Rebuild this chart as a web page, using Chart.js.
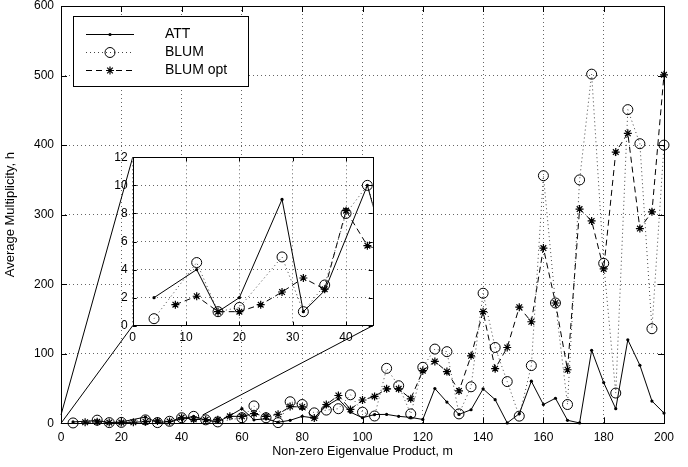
<!DOCTYPE html>
<html>
<head>
<meta charset="utf-8">
<script src="https://cdn.jsdelivr.net/npm/chart.js@4.4.0/dist/chart.umd.min.js"></script>
<style>
  html, body { margin: 0; padding: 0; background: #fff; }
  #wrap { position: relative; width: 688px; height: 467px; }
  #main { position: absolute; left: 0; top: 0; }
  #inset { position: absolute; left: 100px; top: 145px; }
</style>
</head>
<body>
<div id="wrap">
  <canvas id="main" width="688" height="467"></canvas>
  <canvas id="inset" width="290" height="200"></canvas>
</div>
<script>
// m values (x axis)
const mValues = [4, 8, 12, 16, 20, 24, 28, 32, 36, 40, 44, 48, 52, 56, 60, 64, 68, 72, 76, 80,
  84, 88, 92, 96, 100, 104, 108, 112, 116, 120, 124, 128, 132, 136, 140, 144, 148, 152, 156, 160,
  164, 168, 172, 176, 180, 184, 188, 192, 196, 200];

// average multiplicity h (null = no marker there)
const attValues = [2, null, 4, 1, 2, null, 9, 1, 2.5, null, 10, 4.5, 2, 11, 21, 5, 6.5, 1.5, 4.3, 10,
  7.6, 25, 35, 16, 8, 12.6, 12.8, 10, 8.5, 5.5, 50, 30.5, 12.8, 19.5, 49.5, 34, 0.5, 13.8, 60.5, 27,
  36, 4.3, 0.5, 105, 58.5, 21, 120, 83.5, 32, 14.7];
const blumValues = [0.5, null, 4.5, 1, 1.3, null, 4.9, 1, 2.9, 8, 10, 5, 2, null, 8, 25, 8, 1, 31, 27,
  15, 19, 21, 41, 16, 10.5, 79, 54, 13.5, 80.5, 106.7, 103, 13.5, 52.5, 187, 109, 60, 10.3, 83, 356,
  173, 27, 350, 502, 230, 43.5, 451, 402, 136, 400];
const blumOptValues = [null, 1.5, 2.1, 1, 1, 1.5, 2.4, 3.4, 2.6, 8.2, 5.7, 5.2, 5, 10, 10, 13.8, 10, 13, 24, 23.5,
  7.5, 27, 40, 20, 33.5, 38.6, 49.5, 49.5, 35.2, 75.7, 89, 74.3, 46.5, 97, 160.5, 78.5, 109, 167, 146, 252,
  173, 77, 308, 291, 222, 390, 417, 280, 304, 501];

const seriesNames = ['ATT', 'BLUM', 'BLUM opt'];

const mainXTicks = [0, 20, 40, 60, 80, 100, 120, 140, 160, 180, 200];
const mainYTicks = [0, 100, 200, 300, 400, 500, 600];
const insetXTicks = [0, 10, 20, 30, 40];
const insetYTicks = [0, 2, 4, 6, 8, 10, 12];
const insetXMax = 45;
const insetYMax = 12;
// region of the main axes that the inset magnifies
const zoomBox = { xMin: 0, xMax: 47, yMin: 0, yMax: 12 };

const FONT = "'Liberation Sans', Arial, Helvetica, sans-serif";
Chart.defaults.font.family = FONT;
Chart.defaults.color = '#000';

const toPoints = vals => mValues.map((m, i) => ({ x: m, y: vals[i] }));

function makeDatasets(clip) {
  return [
    {
      label: seriesNames[0], data: toPoints(attValues),
      borderColor: '#000', borderWidth: 1, spanGaps: true, clip,
      pointStyle: 'circle', pointRadius: 1.6, pointBackgroundColor: '#000', pointBorderWidth: 0
    },
    {
      label: seriesNames[1], data: toPoints(blumValues),
      borderColor: '#444', borderWidth: 1, borderDash: [1, 3], spanGaps: true, clip,
      pointStyle: 'circle', pointRadius: 5, pointBackgroundColor: 'rgba(0,0,0,0)',
      pointBorderColor: '#000', pointBorderWidth: 1
    },
    {
      label: seriesNames[2], data: toPoints(blumOptValues),
      borderColor: '#000', borderWidth: 1, borderDash: [6, 4], spanGaps: true, clip,
      pointStyle: 'star', pointRadius: 4, pointBackgroundColor: '#000',
      pointBorderColor: '#000', pointBorderWidth: 1.2
    }
  ];
}

// white page / plot box background
const bgFill = {
  id: 'bgFill',
  beforeDraw(chart, args, opts) {
    const { ctx, chartArea: a } = chart;
    ctx.save();
    ctx.fillStyle = '#fff';
    if (opts.whole) ctx.fillRect(0, 0, chart.width, chart.height);
    else ctx.fillRect(a.left, a.top, a.width, a.height);
    ctx.restore();
  }
};

// matlab style box with inward ticks
const frameTicks = {
  id: 'frameTicks',
  afterDraw(chart, args, opts) {
    const { ctx, chartArea: a } = chart;
    const xs = chart.scales.x, ys = chart.scales.y;
    const len = opts.len || 5;
    ctx.save();
    ctx.strokeStyle = '#000';
    ctx.lineWidth = 1;
    ctx.setLineDash([]);
    ctx.beginPath();
    xs.ticks.forEach(t => {
      const p = Math.round(xs.getPixelForValue(t.value)) + 0.5;
      ctx.moveTo(p, a.bottom); ctx.lineTo(p, a.bottom - len);
      ctx.moveTo(p, a.top); ctx.lineTo(p, a.top + len);
    });
    ys.ticks.forEach(t => {
      const p = Math.round(ys.getPixelForValue(t.value)) + 0.5;
      ctx.moveTo(a.left, p); ctx.lineTo(a.left + len, p);
      ctx.moveTo(a.right, p); ctx.lineTo(a.right - len, p);
    });
    ctx.stroke();
    ctx.strokeRect(Math.round(a.left) + 0.5, Math.round(a.top) + 0.5, Math.round(a.width), Math.round(a.height));
    ctx.restore();
  }
};

function markerAt(ctx, ds, x, y) {
  ctx.save();
  ctx.setLineDash([]);
  ctx.strokeStyle = ds.pointBorderColor || '#000';
  ctx.fillStyle = ds.pointBackgroundColor || '#000';
  ctx.lineWidth = ds.pointBorderWidth || 1;
  Chart.helpers.drawPoint(ctx, {
    pointStyle: ds.pointStyle, radius: ds.pointRadius,
    borderWidth: ds.pointBorderWidth, rotation: 0
  }, x, y);
  ctx.restore();
}

const legendBox = {
  id: 'legendBox',
  afterDraw(chart) {
    const { ctx, chartArea: a } = chart;
    const bx = Math.round(a.left + 12), by = Math.round(a.top + 10), bw = 175, bh = 70;
    ctx.save();
    ctx.fillStyle = '#fff';
    ctx.fillRect(bx, by, bw, bh);
    ctx.strokeStyle = '#000';
    ctx.lineWidth = 1;
    ctx.strokeRect(bx + 0.5, by + 0.5, bw, bh);
    chart.data.datasets.forEach((ds, i) => {
      const y = Math.round(by + 18 + i * 17.8) + 0.5;
      ctx.beginPath();
      ctx.setLineDash(ds.borderDash || []);
      ctx.strokeStyle = ds.borderColor;
      ctx.moveTo(bx + 13, y);
      ctx.lineTo(bx + 61, y);
      ctx.stroke();
      markerAt(ctx, ds, bx + 37, y);
      ctx.setLineDash([]);
      ctx.fillStyle = '#000';
      ctx.font = '14px ' + FONT;
      ctx.textBaseline = 'middle';
      ctx.fillText(ds.label, bx + 92, y);
    });
    ctx.restore();
  }
};

const insetCanvas = document.getElementById('inset');
let insetChart;

// lines joining the magnified region to the inset box
const zoomLines = {
  id: 'zoomLines',
  beforeDatasetsDraw(chart) {
    if (!insetChart) return;
    const { ctx } = chart;
    const xs = chart.scales.x, ys = chart.scales.y;
    const ia = insetChart.chartArea;
    const ox = insetCanvas.offsetLeft, oy = insetCanvas.offsetTop;
    const x0 = xs.getPixelForValue(zoomBox.xMin), x1 = xs.getPixelForValue(zoomBox.xMax);
    const yb = ys.getPixelForValue(zoomBox.yMin), yt = ys.getPixelForValue(zoomBox.yMax);
    ctx.save();
    ctx.strokeStyle = '#000';
    ctx.lineWidth = 1;
    ctx.beginPath();
    ctx.moveTo(x0, yt); ctx.lineTo(ox + ia.left, oy + ia.top);
    ctx.moveTo(x0, yb); ctx.lineTo(ox + ia.left, oy + ia.bottom);
    ctx.moveTo(x1, yt); ctx.lineTo(ox + ia.right, oy + ia.bottom);
    ctx.stroke();
    ctx.restore();
  }
};

function noPad(s) {
  s.paddingTop = 0; s.paddingBottom = 0; s.paddingLeft = 0; s.paddingRight = 0;
}

// inset first so the zoom lines know where it sits
insetChart = new Chart(insetCanvas, {
  type: 'line',
  data: { datasets: makeDatasets(0) },
  options: {
    responsive: false, animation: false, devicePixelRatio: 1,
    layout: { padding: { top: 12.3, right: 17.3, left: 0, bottom: 0 } },
    plugins: { legend: { display: false }, tooltip: { enabled: false }, frameTicks: { len: 4 }, bgFill: { whole: false } },
    scales: {
      x: {
        type: 'linear', min: 0, max: insetXMax,
        afterBuildTicks(s) { s.ticks = insetXTicks.map(v => ({ value: v })); },
        afterFit(s) { s.height = 19.3; noPad(s); },
        ticks: { padding: 5, maxRotation: 0, autoSkip: false, font: { size: 12 } },
        grid: { color: '#666', drawTicks: false },
        border: { display: false, dash: [1, 3] }
      },
      y: {
        min: 0, max: insetYMax,
        afterBuildTicks(s) { s.ticks = insetYTicks.map(v => ({ value: v })); },
        afterFit(s) { s.width = 32.7; noPad(s); },
        ticks: { padding: 5, autoSkip: false, font: { size: 12 } },
        grid: { color: '#666', drawTicks: false },
        border: { display: false, dash: [1, 3] }
      }
    }
  },
  plugins: [bgFill, frameTicks]
});

new Chart(document.getElementById('main'), {
  type: 'line',
  data: { datasets: makeDatasets(8) },
  options: {
    responsive: false, animation: false, devicePixelRatio: 1,
    layout: { padding: { top: 4.5, right: 24, left: 0, bottom: 0 } },
    plugins: { legend: { display: false }, tooltip: { enabled: false }, frameTicks: { len: 6 }, bgFill: { whole: true } },
    scales: {
      x: {
        type: 'linear', min: 0, max: 200,
        afterBuildTicks(s) { s.ticks = mainXTicks.map(v => ({ value: v })); },
        afterFit(s) { s.height = 43.7; noPad(s); },
        ticks: { padding: 7, maxRotation: 0, autoSkip: false, font: { size: 12 } },
        grid: { color: '#666', drawTicks: false },
        border: { display: false, dash: [1, 3] },
        title: { display: true, text: 'Non-zero Eigenvalue Product, m', font: { size: 12.5 }, padding: { top: 0, bottom: 7.5 } }
      },
      y: {
        min: 0, max: 600,
        afterBuildTicks(s) { s.ticks = mainYTicks.map(v => ({ value: v })); },
        afterFit(s) { s.width = 61; noPad(s); },
        ticks: { padding: 7, autoSkip: false, font: { size: 12 } },
        grid: { color: '#666', drawTicks: false },
        border: { display: false, dash: [1, 3] },
        title: { display: true, text: 'Average Multiplicity, h', font: { size: 13 }, padding: { top: 2.5, bottom: 0 } }
      }
    }
  },
  plugins: [bgFill, zoomLines, frameTicks, legendBox]
});
</script>
</body>
</html>
